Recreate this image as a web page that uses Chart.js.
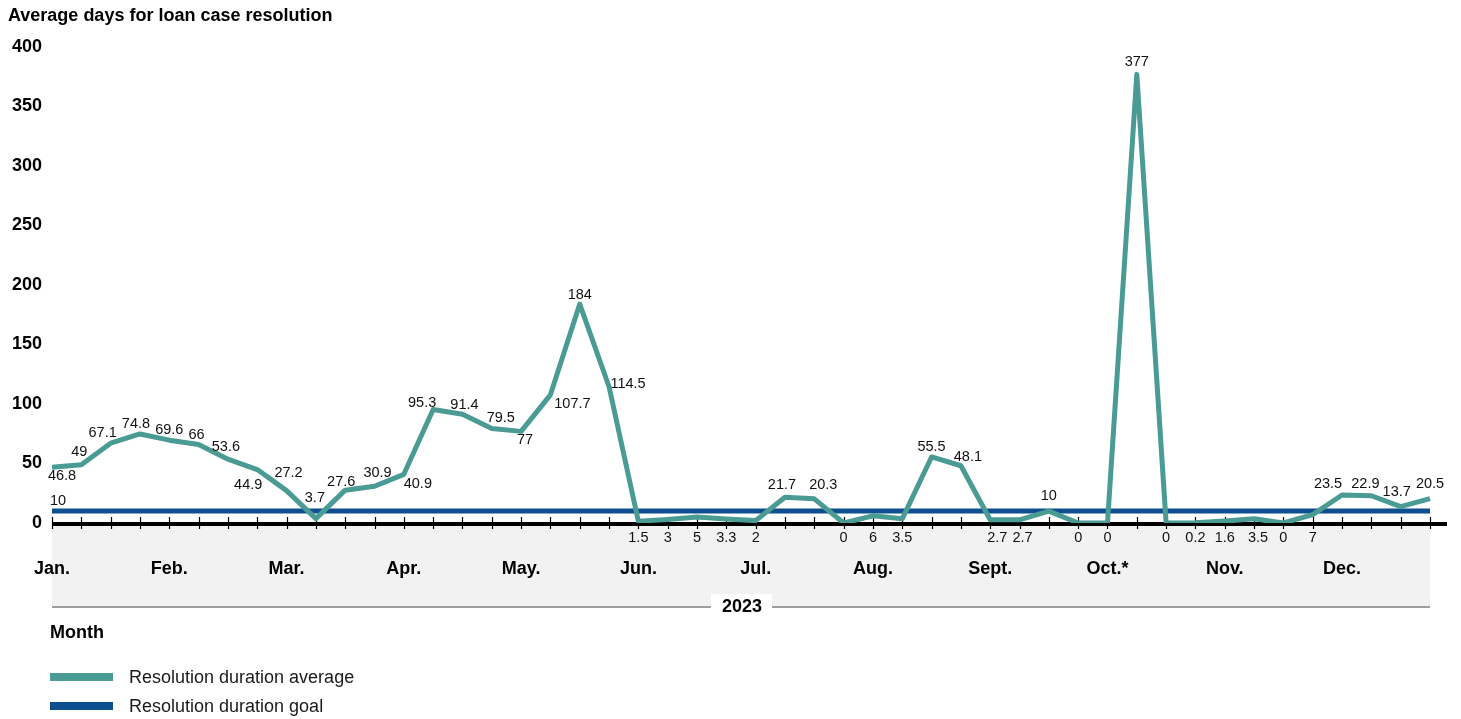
<!DOCTYPE html>
<html>
<head>
<meta charset="utf-8">
<title>Average days for loan case resolution</title>
<script src="https://cdn.jsdelivr.net/npm/chart.js@4.4.0/dist/chart.umd.min.js"></script>
<style>
  html, body { margin: 0; padding: 0; background: #fff; }
  canvas { display: block; }
</style>
</head>
<body>
<canvas id="grafico" width="1461" height="719"></canvas>
<script>
// Meses (4 pontos por mês)
const months = ["Jan.", "Feb.", "Mar.", "Apr.", "May.", "Jun.", "Jul.", "Aug.", "Sept.", "Oct.*", "Nov.", "Dec."];
const categories = months.flatMap(m => [m + " 1", m + " 2", m + " 3", m + " 4"]);

// Média de dias para resolução
const averageDays = [
  46.8, 49, 67.1, 74.8, 69.6, 66, 53.6, 44.9,
  27.2, 3.7, 27.6, 30.9, 40.9, 95.3, 91.4, 79.5,
  77, 107.7, 184, 114.5, 1.5, 3, 5, 3.3,
  2, 21.7, 20.3, 0, 6, 3.5, 55.5, 48.1,
  2.7, 2.7, 10, 0, 0, 377, 0, 0.2,
  1.6, 3.5, 0, 7, 23.5, 22.9, 13.7, 20.5
];

// Meta de resolução (constante)
const goalValue = 10;
const goalDays = categories.map(() => goalValue);

const yMin = 0, yMax = 400, yStep = 50;
const yearLabel = "2023";
const titleText = "Average days for loan case resolution";
const xTitle = "Month";
const seriesNames = ["Resolution duration average", "Resolution duration goal"];

const TEAL = "#4a9b94";
const BLUE = "#0d4f8f";
const FONT = '"Liberation Sans", Arial, sans-serif';

// deslocamento dos rótulos [dx, dy]; null = rótulo abaixo do eixo
const labelOffsets = [
  [10, 9], [-2, -13], [-8, -10], [-4, -10], [0, -10], [-2, -9], [-2, -12], [-9, 15],
  [2, -18], [-1, -21], [-4, -8], [3, -13], [14, 10], [-11, -7], [2, -9], [9, -10],
  [4, 9], [22, 9], [0, -9], [19, -3], null, null, null, null,
  null, [-3, -12], [9, -14], null, null, null, [0, -10], [7, -9],
  null, null, [0, -15], null, null, [0, -12], null, null,
  null, null, null, null, [-14, -11], [-6, -12], [-4, -15], [0, -15]
];
const axisShift = { 32: 7, 33: 3, 41: 4 };

const decorPlugin = {
  id: "decor",
  beforeDraw(chart) {
    const ctx = chart.ctx;
    const a = chart.chartArea;
    ctx.save();
    // título
    ctx.fillStyle = "#000";
    ctx.font = "bold 18px " + FONT;
    ctx.textAlign = "left";
    ctx.textBaseline = "middle";
    ctx.fillText(titleText, 8, 16);

    // faixa cinza sob o eixo
    ctx.fillStyle = "#f2f2f2";
    ctx.fillRect(a.left, a.bottom + 2, a.right - a.left, 606 - a.bottom - 2);

    // linha do ano
    ctx.strokeStyle = "#7f7f7f";
    ctx.lineWidth = 1.5;
    ctx.beginPath();
    ctx.moveTo(a.left, 607);
    ctx.lineTo(a.right, 607);
    ctx.stroke();
    const cx = (a.left + a.right) / 2;
    ctx.fillStyle = "#fff";
    ctx.fillRect(cx - 30, 594, 61, 26);
    ctx.fillStyle = "#000";
    ctx.font = "bold 18px " + FONT;
    ctx.textAlign = "center";
    ctx.fillText(yearLabel, cx + 1, 607);

    // título do eixo X
    ctx.textAlign = "left";
    ctx.fillText(xTitle, 50, 633);

    // legenda
    const colors = [TEAL, BLUE];
    const ys = [677, 706];
    ctx.font = "18px " + FONT;
    seriesNames.forEach((name, i) => {
      ctx.fillStyle = colors[i];
      ctx.fillRect(50, ys[i] - 4, 63, 8);
      ctx.fillStyle = "#1a1a1a";
      ctx.fillText(name, 129, ys[i] + 1);
    });
    ctx.restore();
  },
  beforeDatasetsDraw(chart) {
    const ctx = chart.ctx;
    const a = chart.chartArea;
    const x = chart.scales.x;
    ctx.save();
    ctx.strokeStyle = "#000";
    ctx.lineWidth = 1.2;
    for (let i = 0; i < categories.length; i++) {
      const px = Math.round(x.getPixelForValue(i)) + 0.5;
      ctx.beginPath();
      ctx.moveTo(px, a.bottom - 6);
      ctx.lineTo(px, a.bottom + 6);
      ctx.stroke();
    }
    ctx.lineWidth = 4;
    ctx.beginPath();
    ctx.moveTo(a.left, a.bottom + 1);
    ctx.lineTo(a.right + 17, a.bottom + 1);
    ctx.stroke();
    ctx.restore();
  },
  afterDatasetsDraw(chart) {
    const ctx = chart.ctx;
    const a = chart.chartArea;
    const pts = chart.getDatasetMeta(0).data;
    ctx.save();
    ctx.fillStyle = "#111";
    ctx.font = "14.5px " + FONT;
    ctx.textAlign = "center";
    ctx.textBaseline = "middle";
    pts.forEach((p, i) => {
      const txt = String(averageDays[i]);
      const off = labelOffsets[i];
      if (off) {
        ctx.fillText(txt, p.x + off[0], p.y + off[1]);
      } else {
        ctx.fillText(txt, p.x + (axisShift[i] || 0), a.bottom + 15);
      }
    });
    // rótulo da meta
    const g = chart.getDatasetMeta(1).data[0];
    ctx.fillText(String(goalDays[0]), g.x + 6, g.y - 10);
    ctx.restore();
  }
};

const ctx = document.getElementById("grafico").getContext("2d");

new Chart(ctx, {
  type: "line",
  data: {
    labels: categories,
    datasets: [
      {
        label: seriesNames[0],
        data: averageDays,
        borderColor: TEAL,
        backgroundColor: TEAL,
        borderWidth: 5,
        pointRadius: 0,
        tension: 0,
        borderJoinStyle: "round",
        order: 0
      },
      {
        label: seriesNames[1],
        data: goalDays,
        borderColor: BLUE,
        backgroundColor: BLUE,
        borderWidth: 5,
        pointRadius: 0,
        tension: 0,
        order: 1
      }
    ]
  },
  options: {
    responsive: false,
    animation: false,
    devicePixelRatio: 1,
    layout: { padding: { top: 47, right: 31, left: 0, bottom: 0 } },
    plugins: {
      legend: { display: false },
      title: { display: false },
      tooltip: { enabled: false }
    },
    scales: {
      x: {
        type: "category",
        offset: false,
        grid: { display: false, drawTicks: false },
        border: { display: false },
        afterFit(scale) {
          scale.height = 196;
          scale.paddingLeft = 0;
          scale.paddingRight = 0;
        },
        ticks: {
          autoSkip: false,
          maxRotation: 0,
          minRotation: 0,
          padding: 35,
          color: "#000",
          font: { family: FONT, size: 18, weight: "bold" },
          callback: (v, i) => (i % 4 === 0 ? months[i / 4] : "")
        }
      },
      y: {
        min: yMin,
        max: yMax,
        grid: { display: false, drawTicks: false },
        border: { display: false },
        afterFit(scale) {
          scale.width = 52;
          scale.paddingTop = 0;
          scale.paddingBottom = 0;
        },
        ticks: {
          stepSize: yStep,
          padding: 10,
          color: "#000",
          font: { family: FONT, size: 18, weight: "bold" }
        }
      }
    }
  },
  plugins: [decorPlugin]
});
</script>
</body>
</html>
